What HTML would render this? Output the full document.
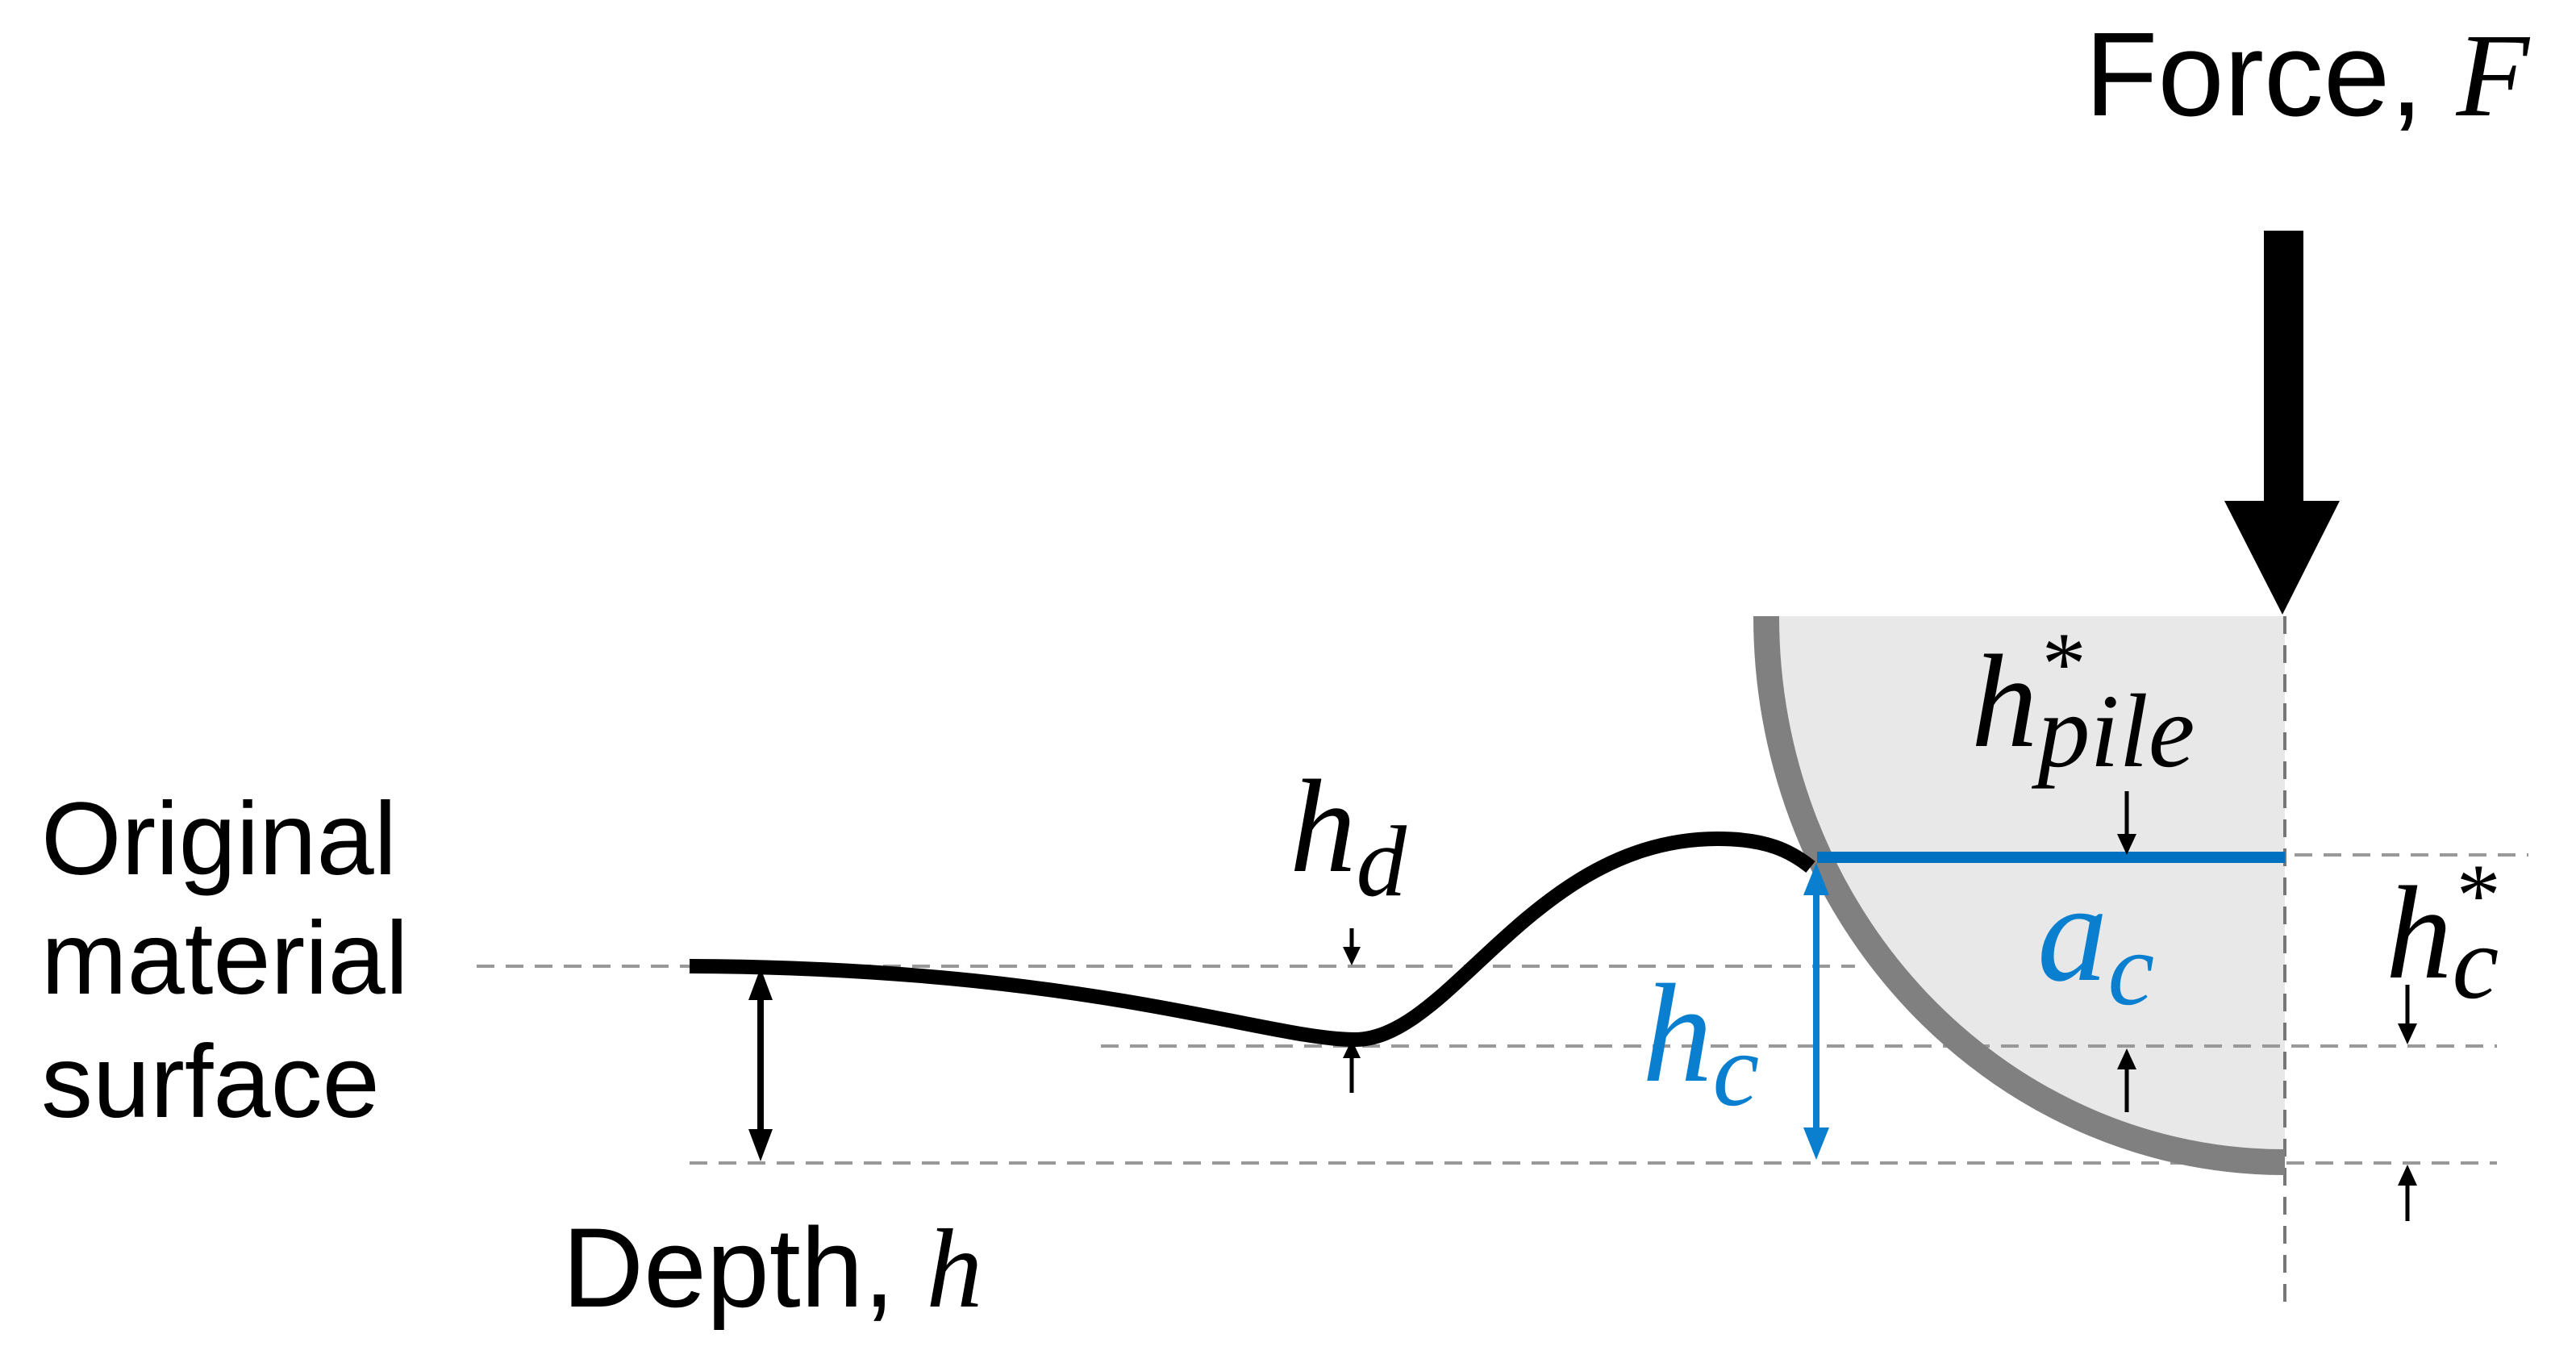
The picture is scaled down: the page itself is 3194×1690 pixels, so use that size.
<!DOCTYPE html>
<html><head><meta charset="utf-8"><style>
html,body{margin:0;padding:0;background:#fff;}
svg{display:block}
.s{font-family:"Liberation Sans",sans-serif;fill:#000}
.m{font-family:"Liberation Serif",serif;font-style:italic}
</style></head><body>
<svg width="3194" height="1690" viewBox="0 0 3194 1690" xmlns="http://www.w3.org/2000/svg">
<path d="M2190,764 A643,677 0 0 0 2833,1441 L2833,764 Z" fill="#e8e8e8"/>
<g stroke="#999" stroke-width="4" stroke-dasharray="22 14" fill="none">
<line x1="591" y1="1198" x2="2300" y2="1198"/>
<line x1="1365" y1="1297" x2="3096" y2="1297"/>
<line x1="855" y1="1442" x2="3096" y2="1442"/>
<line x1="2845" y1="1060" x2="3135" y2="1060"/>
</g>
<line x1="2833" y1="764" x2="2833" y2="1625" stroke="#777" stroke-width="4" stroke-dasharray="22 14"/>
<path d="M2190,764 A643,677 0 0 0 2833,1441" fill="none" stroke="#808080" stroke-width="32"/>
<path d="M855,1198 C1350,1200 1570,1289 1680,1289 C1800,1289 1900,1040 2130,1040 C2190,1040 2220,1055 2245,1075" fill="none" stroke="#000" stroke-width="18"/>
<rect x="2807" y="286" width="49" height="340" fill="#000"/>
<polygon points="2758,621 2901,621 2830,762" fill="#000"/>
<line x1="2253" y1="1063" x2="2833" y2="1063" stroke="#0070c0" stroke-width="14"/>
<line x1="2252" y1="1100" x2="2252" y2="1405" stroke="#0a7fcf" stroke-width="8"/>
<polygon points="2252,1070 2236,1110 2268,1110" fill="#0a7fcf"/>
<polygon points="2252,1438 2236,1398 2268,1398" fill="#0a7fcf"/>
<line x1="943" y1="1225" x2="943" y2="1415" stroke="#000" stroke-width="8"/>
<polygon points="943,1200 928,1240 958,1240" fill="#000"/>
<polygon points="943,1440 928,1400 958,1400" fill="#000"/>
<g stroke="#000" stroke-width="5">
<line x1="1676" y1="1151" x2="1676" y2="1185"/>
<line x1="1676" y1="1300" x2="1676" y2="1355"/>
<line x1="2637" y1="981" x2="2637" y2="1045"/>
<line x1="2637" y1="1320" x2="2637" y2="1379"/>
<line x1="2985" y1="1221" x2="2985" y2="1282"/>
<line x1="2985" y1="1457" x2="2985" y2="1514"/>
</g>
<g fill="#000">
<polygon points="1676,1197 1665,1174 1687,1174"/>
<polygon points="1676,1289 1665,1312 1687,1312"/>
<polygon points="2637,1060 2625,1034 2649,1034"/>
<polygon points="2637,1300 2625,1326 2649,1326"/>
<polygon points="2985,1295 2973,1269 2997,1269"/>
<polygon points="2985,1444 2973,1470 2997,1470"/>
</g>
<text class="s" x="2585" y="143" font-size="148">Force, <tspan class="m" font-family="Liberation Serif">F</tspan></text>
<text class="s" x="51" y="1084" font-size="128">Original</text>
<text class="s" x="51" y="1232" font-size="128">material</text>
<text class="s" x="51" y="1385" font-size="128">surface</text>
<text class="s" x="697" y="1620" font-size="140">Depth, <tspan class="m" font-family="Liberation Serif">h</tspan></text>
<g class="m" font-size="165" fill="#000">
<text x="1599" y="1080">h<tspan font-size="125" dy="30">d</tspan></text>
<text x="2444" y="925">h<tspan font-size="110" dy="-65">*</tspan><tspan font-size="130" dx="-55" dy="90">pile</tspan></text>
<text x="2958" y="1212">h<tspan font-size="110" dy="-65">*</tspan><tspan font-size="130" dx="-55" dy="90">c</tspan></text>
</g>
<g class="m" font-size="175" fill="#0a7fcf">
<text x="2036" y="1340">h<tspan font-size="130" dy="30">c</tspan></text>
<text x="2526" y="1215">a<tspan font-size="130" dy="30">c</tspan></text>
</g>
</svg>
</body></html>
